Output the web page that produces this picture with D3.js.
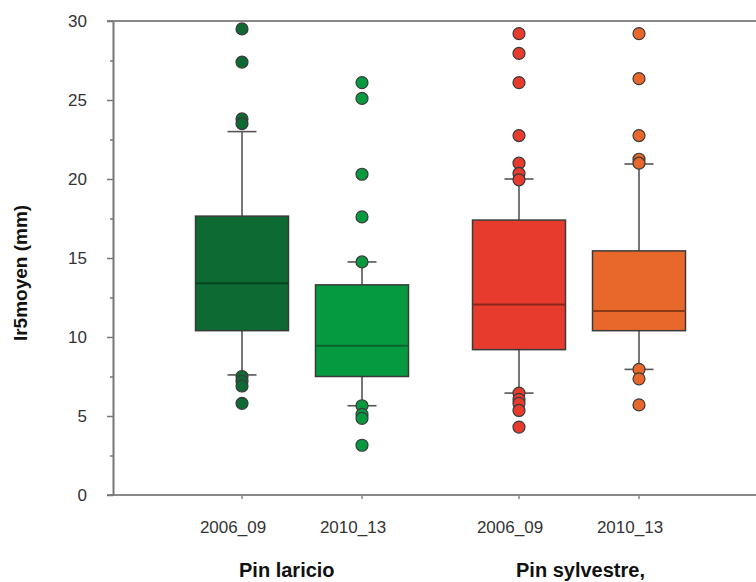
<!DOCTYPE html>
<html>
<head>
<meta charset="utf-8">
<script src="https://cdn.jsdelivr.net/npm/d3@7"></script>
<style>
  body { margin: 0; background: #fff; }
  text { font-family: "Liberation Sans", Arial, sans-serif; }
</style>
</head>
<body>
<div id="chart"></div>
<script>
// data
const groups = ['Pin laricio', 'Pin sylvestre,'];
const periods = ['2006_09', '2010_13'];
const boxGroup = ['Pin laricio', 'Pin laricio', 'Pin sylvestre,', 'Pin sylvestre,'];
const boxPeriod = ['2006_09', '2010_13', '2006_09', '2010_13'];
const whiskerLow = [7.6, 5.65, 6.45, 7.95];
const q1 = [10.4, 7.5, 9.2, 10.4];
const median = [13.4, 9.45, 12.05, 11.65];
const q3 = [17.65, 13.3, 17.4, 15.45];
const whiskerHigh = [23.0, 14.75, 20.0, 20.95];
const outliers = [
  [29.5, 27.4, 23.8, 23.5, 7.5, 7.2, 6.9, 5.8],
  [26.1, 25.1, 20.3, 17.6, 14.75, 5.65, 5.1, 4.85, 3.15],
  [29.2, 27.95, 26.1, 22.75, 21.0, 20.35, 19.95, 6.45, 6.05, 5.8, 5.35, 4.3],
  [29.2, 26.35, 22.75, 21.25, 21.0, 7.95, 7.35, 5.7]
];
const yTicks = [0, 5, 10, 15, 20, 25, 30];
const yMinorTicks = [2.5, 7.5, 12.5, 17.5, 22.5, 27.5];
const fills = ['#0d6a33', '#069a40', '#e73b2e', '#e8672b'];
const medianColors = ['#07431f', '#08632a', '#8a2418', '#8a3a16'];

const width = 756, height = 582;
const plotTop = 21, plotBottom = 495, plotLeft = 113;

const svg = d3.select('#chart').append('svg')
  .attr('width', width)
  .attr('height', height);

const y = d3.scaleLinear().domain([0, 30]).range([plotBottom, plotTop]);
const xGroup = d3.scalePoint().domain(groups).range([302, 579]);
const xInner = d3.scalePoint().domain(periods).range([-60, 60]);
const xc = i => xGroup(boxGroup[i]) + xInner(boxPeriod[i]);

const boxW = 93, capW = 29;

// top frame line
svg.append('line')
  .attr('x1', plotLeft - 6).attr('x2', width)
  .attr('y1', y(30)).attr('y2', y(30))
  .attr('stroke', '#888').attr('stroke-width', 2);

// x axis line
svg.append('line')
  .attr('x1', plotLeft - 6).attr('x2', width)
  .attr('y1', y(0)).attr('y2', y(0))
  .attr('stroke', '#888').attr('stroke-width', 2);

// y axis
const yAxis = svg.append('g')
  .attr('transform', `translate(${plotLeft},0)`)
  .call(d3.axisLeft(y).tickValues(yTicks).tickSize(6).tickSizeOuter(0).tickPadding(20));
yAxis.select('.domain').attr('stroke', '#777').attr('stroke-width', 2);
yAxis.selectAll('.tick line').attr('stroke', '#777').attr('stroke-width', 1.5);
yAxis.selectAll('.tick text')
  .attr('font-size', 17).attr('fill', '#333')
  .attr('font-family', '"Liberation Sans", Arial, sans-serif');

const yMinor = svg.append('g')
  .attr('transform', `translate(${plotLeft},0)`)
  .call(d3.axisLeft(y).tickValues(yMinorTicks).tickSize(3).tickSizeOuter(0).tickFormat(''));
yMinor.select('.domain').remove();
yMinor.selectAll('.tick line').attr('stroke', '#777').attr('stroke-width', 1.5);

// x category ticks and labels
const idx = d3.range(boxGroup.length);
svg.selectAll('.xtick').data(idx).enter().append('line')
  .attr('x1', i => xc(i)).attr('x2', i => xc(i))
  .attr('y1', y(0)).attr('y2', y(0) + 4)
  .attr('stroke', '#888').attr('stroke-width', 1.5);

svg.selectAll('.xlabel').data(idx).enter().append('text')
  .attr('x', i => xc(i) - 9)
  .attr('y', 533)
  .attr('text-anchor', 'middle')
  .attr('font-size', 17)
  .attr('fill', '#333')
  .text(i => boxPeriod[i]);

svg.selectAll('.glabel').data(groups).enter().append('text')
  .attr('x', d => xGroup(d) - 63)
  .attr('y', 577)
  .attr('font-size', 20)
  .attr('font-weight', 'bold')
  .attr('fill', '#111')
  .text(d => d);

// y axis title
svg.append('text')
  .attr('transform', `translate(27,273) rotate(-90)`)
  .attr('text-anchor', 'middle')
  .attr('font-size', 19)
  .attr('font-weight', 'bold')
  .attr('fill', '#111')
  .text('Ir5moyen (mm)');

// boxes
const box = svg.selectAll('.box').data(idx).enter().append('g');

box.append('line')
  .attr('x1', i => xc(i)).attr('x2', i => xc(i))
  .attr('y1', i => y(q3[i])).attr('y2', i => y(whiskerHigh[i]))
  .attr('stroke', '#555').attr('stroke-width', 1.6);
box.append('line')
  .attr('x1', i => xc(i)).attr('x2', i => xc(i))
  .attr('y1', i => y(q1[i])).attr('y2', i => y(whiskerLow[i]))
  .attr('stroke', '#555').attr('stroke-width', 1.6);
box.append('line')
  .attr('x1', i => xc(i) - capW / 2).attr('x2', i => xc(i) + capW / 2)
  .attr('y1', i => y(whiskerHigh[i])).attr('y2', i => y(whiskerHigh[i]))
  .attr('stroke', '#555').attr('stroke-width', 1.6);
box.append('line')
  .attr('x1', i => xc(i) - capW / 2).attr('x2', i => xc(i) + capW / 2)
  .attr('y1', i => y(whiskerLow[i])).attr('y2', i => y(whiskerLow[i]))
  .attr('stroke', '#555').attr('stroke-width', 1.6);

box.append('rect')
  .attr('x', i => xc(i) - boxW / 2)
  .attr('y', i => y(q3[i]))
  .attr('width', boxW)
  .attr('height', i => y(q1[i]) - y(q3[i]))
  .attr('fill', i => fills[i])
  .attr('stroke', '#3a3a3a').attr('stroke-width', 1.5);

box.append('line')
  .attr('x1', i => xc(i) - boxW / 2).attr('x2', i => xc(i) + boxW / 2)
  .attr('y1', i => y(median[i])).attr('y2', i => y(median[i]))
  .attr('stroke', i => medianColors[i]).attr('stroke-width', 2);

// outliers
box.each(function(i) {
  d3.select(this).selectAll('circle')
    .data(outliers[i]).enter().append('circle')
    .attr('cx', xc(i))
    .attr('cy', d => y(d))
    .attr('r', 6)
    .attr('fill', fills[i])
    .attr('stroke', '#3a3a3a').attr('stroke-width', 1.2);
});
</script>
</body>
</html>
